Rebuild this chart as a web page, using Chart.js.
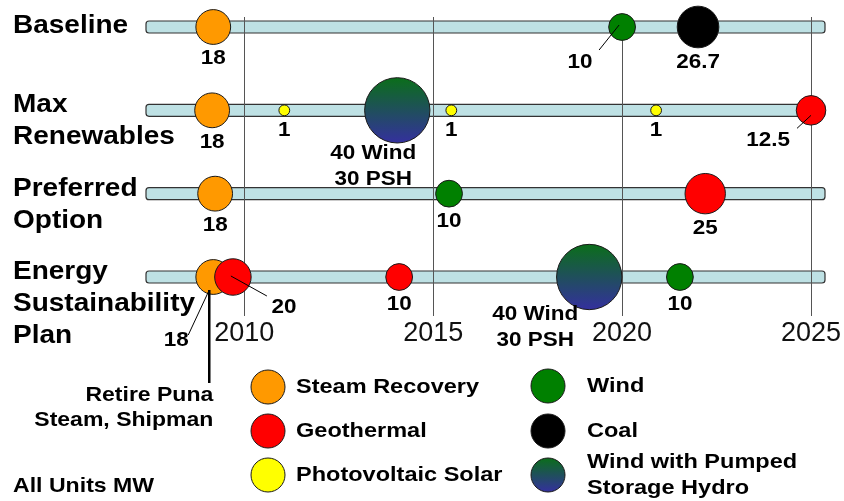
<!DOCTYPE html>
<html>
<head>
<meta charset="utf-8">
<script src="https://cdn.jsdelivr.net/npm/chart.js@4.4.1/dist/chart.umd.min.js"></script>
<style>
  html, body { margin: 0; padding: 0; background: #fff; }
  #wrap { width: 844px; height: 501px; position: relative; }
</style>
</head>
<body>
<div id="wrap"><canvas id="chart"></canvas></div>
<script>
// Scenario rows, top to bottom
const rows = ['Baseline', 'Max Renewables', 'Preferred Option', 'Energy Sustainability Plan'];
const yearTicks = [2010, 2015, 2020, 2025];
const yearRange = [2007.4, 2025.37];

// Capacity additions: [row, year, MW]
const steamRecovery = [[0, 2009.18, 18], [1, 2009.15, 18], [2, 2009.23, 18], [3, 2009.18, 18]];
const geothermal = [[1, 2025.0, 12.5], [2, 2022.2, 25], [3, 2009.7, 20], [3, 2014.1, 10]];
const photovoltaic = [[1, 2011.06, 1], [1, 2015.48, 1], [1, 2020.9, 1]];
const wind = [[0, 2020.0, 10], [2, 2015.42, 10], [3, 2021.53, 10]];
const coal = [[0, 2022.01, 26.7]];
// [row, year, wind MW, pumped storage MW]
const windPumpedHydro = [[1, 2014.05, 40, 30], [3, 2019.13, 40, 30]];

const SANS = '"Liberation Sans", Arial, Helvetica, sans-serif';
Chart.defaults.font.family = SANS;

// bubble radius grows with capacity
const radiusFor = mw => 1.7 + 3.7 * Math.sqrt(mw);

function pshGradient(ctx, y, r) {
    const g = ctx.createLinearGradient(0, y - r, 0, y + r);
    g.addColorStop(0, '#0B6E1A');
    g.addColorStop(1, '#34309E');
    return g;
}

const series = [
    { label: 'Steam Recovery', fill: '#FF9900', points: steamRecovery },
    { label: 'Geothermal', fill: '#FF0000', points: geothermal },
    { label: 'Photovoltaic Solar', fill: '#FFFF00', points: photovoltaic },
    { label: 'Wind', fill: '#008000', points: wind },
    { label: 'Coal', fill: '#000000', points: coal },
    { label: 'Wind with Pumped Storage Hydro', fill: null, points: windPumpedHydro }
];

const datasets = series.map(s => ({
    label: s.label,
    data: s.points.map(p => {
        const psh = p.length > 3;
        const mw = psh ? p[2] + p[3] : p[2];
        return {
            x: p[1], y: p[0], r: radiusFor(mw),
            text: psh ? [p[2] + ' Wind', p[3] + ' PSH'] : [String(p[2])]
        };
    }),
    backgroundColor: s.fill || (c => {
        if (c.type !== 'data' || !c.chart.chartArea) return '#204E70';
        const y = c.chart.scales.y.getPixelForValue(c.raw.y);
        return pshGradient(c.chart.ctx, y, c.raw.r);
    }),
    borderColor: '#1A1A1A',
    borderWidth: 1,
    hoverBorderWidth: 1,
    clip: false,
    order: s.label === 'Steam Recovery' ? 1 : 0
}));

// labels that sit off to the side with a leader line (offsets from bubble centre)
const callouts = {
    'Wind:0': { at: [-42, 35], leader: [[-3, -2], [-23, 23]] },
    'Geothermal:0': { at: [-43, 30], leader: [[0, 5], [-14, 18]] },
    'Steam Recovery:3': { at: [-37, 63], leader: [[-4, 13], [-25, 58]] },
    'Geothermal:2': { at: [51, 30], leader: [[-2, -1], [34, 19]] },
    'Wind with Pumped Storage Hydro:0': { at: [-24, 43] },
    'Wind with Pumped Storage Hydro:1': { at: [-54, 37] }
};

function drawText(ctx, str, x, y, size, align, sx, weight) {
    ctx.save();
    ctx.font = (weight || 'bold') + ' ' + size + 'px ' + SANS;
    ctx.textBaseline = 'middle';
    ctx.textAlign = align;
    ctx.fillStyle = '#000';
    ctx.translate(x, y);
    ctx.scale(sx, 1);
    ctx.fillText(str, 0, 0);
    ctx.restore();
}

function line(ctx, x1, y1, x2, y2, w) {
    ctx.save();
    ctx.strokeStyle = '#000';
    ctx.lineWidth = w;
    ctx.beginPath();
    ctx.moveTo(x1, y1);
    ctx.lineTo(x2, y2);
    ctx.stroke();
    ctx.restore();
}

const timelinePlugin = {
    id: 'timeline',
    beforeDraw(chart) {
        // light blue track for every scenario
        const { ctx, scales: { x, y } } = chart;
        const x0 = x.getPixelForValue(yearRange[0]);
        const x1 = x.getPixelForValue(yearRange[1]);
        ctx.save();
        rows.forEach((r, i) => {
            const yy = y.getPixelForValue(i);
            ctx.beginPath();
            ctx.roundRect(x0, yy - 6, x1 - x0, 12, 3);
            ctx.fillStyle = '#BEE1E4';
            ctx.fill();
            ctx.strokeStyle = '#333';
            ctx.lineWidth = 1.2;
            ctx.stroke();
        });
        ctx.restore();
    },
    afterDatasetsDraw(chart) {
        const { ctx, scales: { y } } = chart;

        // scenario names
        rows.forEach((r, i) => {
            const yy = y.getPixelForValue(i);
            const words = r.split(' ');
            const top = words.length > 1 ? yy - 5 : yy - 1;
            words.forEach((w, k) => drawText(ctx, w, 13, top + k * 32, 25, 'left', 1.12));
        });

        // value labels
        chart.data.datasets.forEach((ds, i) => {
            const meta = chart.getDatasetMeta(i);
            meta.data.forEach((el, j) => {
                const raw = ds.data[j];
                const c = callouts[ds.label + ':' + j];
                let lx = el.x, ly = el.y + raw.r + 14;
                if (c) {
                    lx = el.x + c.at[0];
                    ly = el.y + c.at[1];
                    if (c.leader) {
                        line(ctx, el.x + c.leader[0][0], el.y + c.leader[0][1],
                            el.x + c.leader[1][0], el.y + c.leader[1][1], 1);
                    }
                }
                raw.text.forEach((t, k) => drawText(ctx, t, lx, ly + k * 26, 21, 'center', 1.07));

                if (ds.label === 'Steam Recovery' && j === 3) {
                    line(ctx, el.x - 4, el.y + 13, el.x - 4, el.y + 106, 2.5);
                    drawText(ctx, 'Retire Puna', el.x, el.y + 118, 20, 'right', 1.15);
                    drawText(ctx, 'Steam, Shipman', el.x, el.y + 143, 20, 'right', 1.15);
                }
            });
        });

        // legend
        const slots = [[268, 387], [268, 431], [268, 475], [548, 386], [548, 431], [548, 475]];
        chart.data.datasets.forEach((ds, i) => {
            const [cx, cy] = slots[i];
            ctx.save();
            ctx.beginPath();
            ctx.arc(cx, cy, 17, 0, Math.PI * 2);
            ctx.fillStyle = typeof ds.backgroundColor === 'string' ? ds.backgroundColor : pshGradient(ctx, cy, 17);
            ctx.fill();
            ctx.strokeStyle = '#1A1A1A';
            ctx.lineWidth = 1;
            ctx.stroke();
            ctx.restore();
            const tx = cx + (i < 3 ? 28 : 39);
            if (ds.label === 'Wind with Pumped Storage Hydro') {
                drawText(ctx, 'Wind with Pumped', tx, cy - 13, 21, 'left', 1.12);
                drawText(ctx, 'Storage Hydro', tx, cy + 13, 21, 'left', 1.12);
            } else {
                drawText(ctx, ds.label, tx, cy, 21, 'left', 1.12);
            }
        });

        drawText(ctx, 'All Units MW', 13, 486, 21, 'left', 1.1);
    }
};

new Chart(document.getElementById('chart'), {
    type: 'bubble',
    data: { datasets },
    plugins: [timelinePlugin],
    options: {
        responsive: true,
        maintainAspectRatio: false,
        animation: false,
        layout: { autoPadding: false, padding: { left: 146, right: 19, top: 17, bottom: 145 } },
        plugins: {
            legend: { display: false },
            tooltip: { enabled: false }
        },
        scales: {
            x: {
                type: 'linear',
                min: yearRange[0],
                max: yearRange[1],
                afterBuildTicks: scale => { scale.ticks = yearTicks.map(v => ({ value: v })); },
                afterFit: scale => { scale.height = 40; scale.paddingLeft = 0; scale.paddingRight = 0; },
                grid: { color: '#555', lineWidth: 1, drawTicks: false },
                border: { display: false },
                ticks: {
                    padding: 1,
                    color: '#111',
                    font: { size: 27 },
                    maxRotation: 0,
                    callback: v => String(v)
                }
            },
            y: {
                type: 'linear',
                display: false,
                reverse: true,
                min: -0.12,
                max: 3.468
            }
        }
    }
});
</script>
</body>
</html>
